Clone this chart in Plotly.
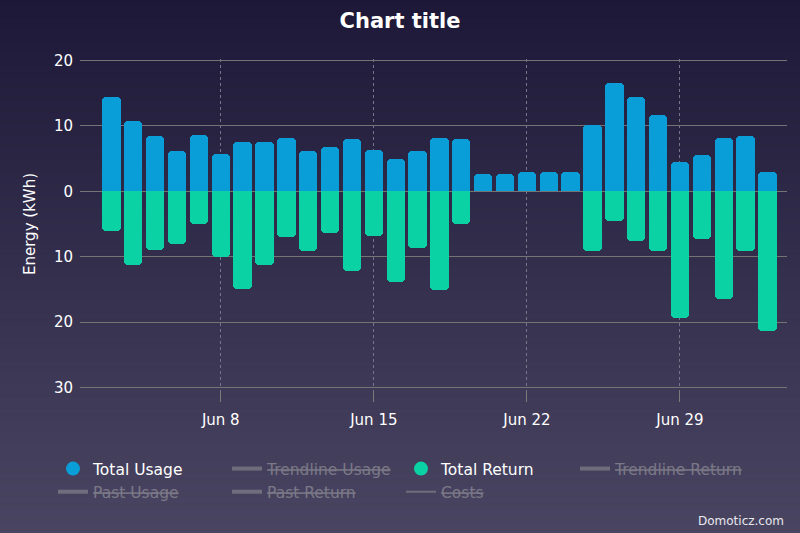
import datetime as dt
import plotly.graph_objects as go

# ---- data ----
start = dt.date(2020, 6, 3)
dates = [(start + dt.timedelta(days=i)).isoformat() for i in range(31)]
usage = [14.5, 10.8, 8.4, 6.1, 8.6, 5.7, 7.6, 7.6, 8.2, 6.1, 6.75, 8.0, 6.35, 5.0,
         6.1, 8.2, 8.0, 2.7, 2.7, 2.9, 2.9, 2.9, 10.2, 16.6, 14.5, 11.65, 4.5, 5.5,
         8.2, 8.4, 2.9]
ret = [6.1, 11.2, 9.0, 8.0, 4.95, 10.0, 14.95, 11.2, 7.0, 9.2, 6.4, 12.2, 6.8, 13.8,
       8.6, 15.15, 4.95, 0, 0, 0, 0, 0, 9.1, 4.5, 7.6, 9.1, 19.4, 7.25, 16.4, 9.2, 21.3]
y_ticks = [-30, -20, -10, 0, 10, 20]
y_tick_text = [str(abs(v)) for v in y_ticks]
x_ticks = ["2020-06-08", "2020-06-15", "2020-06-22", "2020-06-29"]
x_tick_text = ["Jun 8", "Jun 15", "Jun 22", "Jun 29"]
series_names = ["Total Usage", "Total Return"]

BLUE = "#099ed8"
GREEN = "#0ad2a5"
FONT = "DejaVu Sans"
W, H = 800, 533
ML, MR, MT, MB = 80, 13, 59, 144
PW, PH = W - ML - MR, H - MT - MB


def px_to_paper_x(px):
    return (px - ML) / PW


def px_to_paper_y(py):
    return (H - MB - py) / PH


fig = go.Figure()
bar_w = 0.84 * 86400000
fig.add_trace(go.Bar(x=dates, y=usage, marker=dict(color=BLUE, line=dict(width=0)),
                     width=bar_w, name=series_names[0], showlegend=False))
fig.add_trace(go.Bar(x=dates, y=[-v for v in ret], marker=dict(color=GREEN, line=dict(width=0)),
                     width=bar_w, name=series_names[1], showlegend=False))


def strike(name):
    return '<span style="color:#b0b0b0;text-decoration:line-through">' + name + '</span>'


# legend entries in the order of the reference
legend_order = [("Total Usage", BLUE), ("Trendline Usage", None),
                ("Total Return", GREEN), ("Trendline Return", None),
                ("Past Usage", None), ("Past Return", None), ("Costs", None)]
for name, col in legend_order:
    if col is not None:
        fig.add_trace(go.Scatter(x=[None], y=[None], mode="markers", name=name,
                                 marker=dict(color=col, size=14, symbol="circle")))
    else:
        fig.add_trace(go.Scatter(x=[None], y=[None], mode="lines", name=strike(name),
                                 visible="legendonly",
                                 line=dict(color="#9a9a9a", width=2 if name == "Costs" else 4)))

# background gradient
top = (30, 24, 56)
bot = (73, 69, 97)
n = 90
shapes = []
for i in range(n):
    t = i / (n - 1)
    c = tuple(round(top[k] + (bot[k] - top[k]) * t) for k in range(3))
    y0 = H * i / n
    y1 = H * (i + 1) / n + 1
    shapes.append(dict(type="rect", xref="paper", yref="paper",
                       x0=px_to_paper_x(-2), x1=px_to_paper_x(W + 2),
                       y0=px_to_paper_y(y1), y1=px_to_paper_y(y0),
                       fillcolor="rgb(%d,%d,%d)" % c, line=dict(width=0), layer="below"))

fig.update_layout(
    width=W, height=H,
    margin=dict(l=ML, r=MR, t=MT, b=MB, autoexpand=False),
    paper_bgcolor="rgb(50,45,76)", plot_bgcolor="rgba(0,0,0,0)",
    barmode="relative", bargap=0,
    barcornerradius=4,
    shapes=shapes,
    font=dict(family=FONT, color="white", size=15),
    title=dict(text="<b>Chart title</b>", x=0.5, xref="container", xanchor="center",
               y=1 - 21 / H, yref="container", yanchor="middle",
               font=dict(family=FONT, size=21, color="white")),
    xaxis=dict(type="date", range=["2020-06-01 13:30", "2020-07-03 21:30"],
               tickvals=x_ticks, ticktext=x_tick_text,
               showgrid=True, gridcolor="#77758a", griddash="dot", gridwidth=1,
               ticks="outside", ticklen=12, tickcolor="#7a7a7a", tickwidth=1,
               ticklabelstandoff=5,
               showline=False, zeroline=False,
               tickfont=dict(size=15, color="white")),
    yaxis=dict(range=[-30.25, 20.25], tickvals=y_ticks, ticktext=y_tick_text,
               showgrid=True, gridcolor="#747474", gridwidth=1.3, zeroline=False,
               showline=False, ticks="", ticklabelstandoff=6,
               tickfont=dict(size=15, color="white"),
               title=dict(text="Energy (kWh)", standoff=14,
                          font=dict(size=15, color="white"))),
    legend=dict(orientation="h", x=px_to_paper_x(53), xanchor="left",
                y=px_to_paper_y(452), yanchor="top",
                entrywidth=129, entrywidthmode="pixels", tracegroupgap=0,
                font=dict(family=FONT, size=15.5, color="white"),
                bgcolor="rgba(0,0,0,0)", itemclick=False, itemdoubleclick=False),
    annotations=[dict(text="Domoticz.com", xref="paper", yref="paper",
                      x=px_to_paper_x(786), y=px_to_paper_y(521),
                      xanchor="right", yanchor="middle", showarrow=False,
                      font=dict(family=FONT, size=12, color="#e8e8ee"))],
)

fig.write_html("out.html")
